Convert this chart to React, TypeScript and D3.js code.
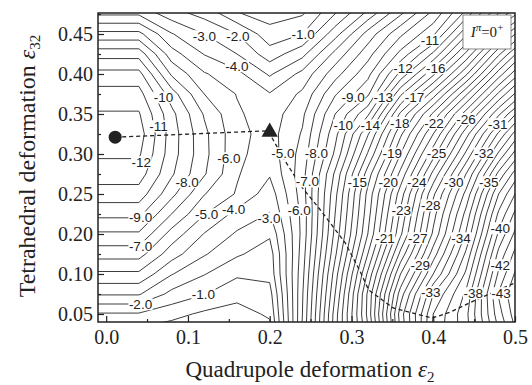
import React, { useEffect, useRef } from "react";
import * as d3 from "d3";

// grid nodes of the calculated energy surface (quadrupole eps2 / tetrahedral eps32)
const epsX = [-0.02, 0.04, 0.08, 0.12, 0.16, 0.2, 0.24, 0.28, 0.32, 0.36, 0.4, 0.44, 0.48, 0.52];
const epsY = [0.48, 0.45, 0.425, 0.4, 0.375, 0.35, 0.325, 0.3, 0.275, 0.25, 0.225, 0.2, 0.15, 0.1, 0.075, 0.05, 0.035];

// energy (MeV), one row per epsY value, one column per epsX value
const energy = [
  [-3.4, -3.4, -2.2, -1.4, 0.15, 0.6, 0.3, -1.7, -4.0, -6.5, -9.0, -12.0, -15.5, -19.0],
  [-6.3, -6.3, -4.07, -3.0, -2.0, -0.4, -1.0, -3.6, -6.4, -8.8, -10.8, -14.8, -19.0, -23.0],
  [-8.6, -8.6, -5.44, -3.95, -3.0, -1.45, -2.7, -5.3, -7.6, -10.3, -13.2, -17.2, -21.8, -26.0],
  [-10.35, -10.35, -6.85, -5.1, -4.3, -2.86, -4.3, -6.6, -8.7, -12.3, -15.8, -19.8, -24.5, -28.5],
  [-11.4, -11.4, -8.46, -6.0, -4.95, -4.07, -5.2, -7.9, -9.8, -14.8, -18.5, -22.8, -27.2, -31.0],
  [-12.1, -12.1, -9.3, -6.9, -5.15, -4.45, -5.8, -9.0, -11.8, -17.2, -21.2, -25.5, -29.8, -34.0],
  [-12.5, -12.5, -9.5, -7.25, -5.3, -4.6, -6.1, -9.7, -13.9, -18.8, -23.0, -27.6, -32.2, -36.5],
  [-12.15, -12.15, -9.45, -7.3, -5.25, -4.45, -6.4, -10.2, -15.1, -20.0, -24.6, -29.2, -34.2, -38.5],
  [-11.5, -11.5, -9.15, -7.1, -5.1, -4.1, -6.6, -11.2, -16.5, -21.3, -26.3, -31.0, -36.3, -40.5],
  [-10.55, -10.55, -8.3, -6.05, -4.9, -3.45, -6.5, -11.7, -17.3, -22.5, -27.8, -32.3, -38.0, -42.0],
  [-9.27, -9.27, -7.0, -5.05, -3.67, -2.95, -6.3, -12.0, -17.6, -23.2, -28.6, -33.3, -39.2, -43.2],
  [-7.85, -7.85, -5.6, -3.95, -2.86, -2.15, -6.3, -12.3, -18.0, -23.8, -29.2, -34.1, -40.2, -44.2],
  [-6.4, -6.4, -4.45, -3.1, -2.14, -1.5, -6.5, -12.8, -19.0, -25.3, -30.5, -35.2, -41.3, -45.2],
  [-4.8, -4.8, -3.06, -2.05, -1.16, -1.3, -6.7, -13.5, -20.2, -27.0, -32.0, -36.2, -42.2, -46.0],
  [-3.1, -3.1, -1.7, -1.05, -0.32, -0.6, -6.9, -14.0, -21.2, -28.5, -34.0, -37.2, -43.1, -46.5],
  [-0.9, -0.9, -0.35, 0.2, 0.4, -0.15, -7.0, -14.5, -21.3, -29.5, -35.0, -37.7, -42.6, -46.3],
  [-0.1, -0.1, 0.3, 0.6, 0.7, 0.2, -7.1, -14.6, -21.0, -29.3, -35.2, -37.6, -42.2, -46.0],
];

const levels = d3.range(-46, 1);

const xTicks = [0, 0.1, 0.2, 0.3, 0.4, 0.5];
const xMinor = [0.05, 0.15, 0.25, 0.35, 0.45];
const yTicks = [0.05, 0.1, 0.2, 0.25, 0.3, 0.35, 0.4, 0.45];
const yMinor = [0.075, 0.15, 0.225, 0.275, 0.325, 0.375, 0.425, 0.475];

// contour labels: text, eps2, eps32
const contourLabels: [string, number, number][] = [
  ["-3.0", 0.12, 0.4475], ["-2.0", 0.161, 0.4475], ["-1.0", 0.241, 0.45], ["-4.0", 0.16, 0.41],
  ["-10", 0.07, 0.371], ["-11", 0.064, 0.335], ["-12", 0.043, 0.29], ["-6.0", 0.15, 0.295],
  ["-8.0", 0.099, 0.265], ["-9.0", 0.042, 0.221], ["-7.0", 0.042, 0.17], ["-5.0", 0.123, 0.225],
  ["-4.0", 0.156, 0.231], ["-3.0", 0.199, 0.22], ["-2.0", 0.042, 0.0625], ["-1.0", 0.119, 0.075],
  ["-11", 0.396, 0.4425], ["-12", 0.363, 0.4075], ["-16", 0.403, 0.4075],
  ["-9.0", 0.302, 0.371], ["-13", 0.339, 0.371], ["-17", 0.377, 0.371],
  ["-10", 0.29, 0.336], ["-14", 0.323, 0.336], ["-18", 0.359, 0.339], ["-22", 0.401, 0.339],
  ["-26", 0.44, 0.344], ["-31", 0.479, 0.3375],
  ["-5.0", 0.216, 0.301], ["-8.0", 0.257, 0.301], ["-19", 0.35, 0.301], ["-25", 0.404, 0.301],
  ["-32", 0.462, 0.301],
  ["-7.0", 0.246, 0.266], ["-15", 0.307, 0.265], ["-20", 0.345, 0.265], ["-24", 0.38, 0.265],
  ["-30", 0.425, 0.265], ["-35", 0.468, 0.265],
  ["-6.0", 0.236, 0.23], ["-23", 0.361, 0.23], ["-28", 0.397, 0.236],
  ["-21", 0.341, 0.19], ["-27", 0.381, 0.19], ["-34", 0.434, 0.19], ["-40", 0.482, 0.2075],
  ["-29", 0.384, 0.1225], ["-42", 0.482, 0.1225],
  ["-33", 0.397, 0.0775], ["-38", 0.449, 0.07625], ["-43", 0.483, 0.07625],
];

const groundState = [0.011, 0.321];
const saddlePoint = [0.2, 0.3275];

// minimum-energy (fission) path
const fissionPath = [
  [0.011, 0.321], [0.198, 0.329], [0.2166, 0.295], [0.2375, 0.261], [0.262, 0.23],
  [0.2925, 0.1775], [0.311, 0.105], [0.321, 0.08], [0.351, 0.0575], [0.399, 0.045],
  [0.421, 0.0525], [0.452, 0.0675], [0.5, 0.089],
];

export default function App() {
  const ref = useRef<SVGSVGElement>(null);

  useEffect(() => {
    const svg = d3.select(ref.current);
    svg.selectAll("*").remove();

    const left = 98, right = 515, top = 13, bottom = 322;
    const serif = "'Liberation Serif', 'Times New Roman', serif";
    const sans = "'Liberation Sans', Arial, sans-serif";

    const x = d3.scaleLinear().domain([-0.01, 0.5]).range([left, right]);
    // the printed axis places its labels at equal spacing
    const y = d3.scaleLinear().domain(yTicks).range(yTicks.map((_, i) => 314 - 40 * i));

    svg.append("rect").attr("width", 532).attr("height", 385).attr("fill", "white");

    svg.append("defs").append("clipPath").attr("id", "plot-area")
      .append("rect").attr("x", left).attr("y", top)
      .attr("width", right - left).attr("height", bottom - top);

    // contour lines
    const nx = epsX.length, ny = epsY.length;
    const gx = d3.scaleLinear().domain(d3.range(nx)).range(epsX);
    const gy = d3.scaleLinear().domain(d3.range(ny)).range(epsY);
    const toPx = (p: number[]): [number, number] => [
      x(gx(Math.max(0, Math.min(nx - 1, p[0] - 0.5)))),
      y(gy(Math.max(0, Math.min(ny - 1, p[1] - 0.5)))),
    ];
    const contours = d3.contours().size([nx, ny]).thresholds(levels)(energy.flat());
    const line = d3.line();
    const cg = svg.append("g").attr("clip-path", "url(#plot-area)");
    contours.forEach((c) => {
      c.coordinates.forEach((poly) => {
        poly.forEach((ring) => {
          cg.append("path")
            .attr("d", line(ring.map(toPx)))
            .attr("fill", "none")
            .attr("stroke", "#333")
            .attr("stroke-width", 0.95);
        });
      });
    });

    // fission path
    cg.append("path")
      .attr("d", line(fissionPath.map((d) => [x(d[0]), y(d[1])] as [number, number])))
      .attr("fill", "none")
      .attr("stroke", "#222")
      .attr("stroke-width", 1.3)
      .attr("stroke-dasharray", "4,3");

    // contour labels
    const lg = svg.append("g");
    contourLabels.forEach(([t, lx, ly]) => {
      const g = lg.append("g");
      const txt = g.append("text")
        .attr("x", x(lx)).attr("y", y(ly))
        .attr("dy", "0.35em")
        .attr("text-anchor", "middle")
        .style("font-family", sans)
        .style("font-size", "13.5px")
        .attr("fill", "#222")
        .text(t);
      const b = (txt.node() as SVGTextElement).getBBox();
      g.insert("rect", "text")
        .attr("x", b.x - 0.5).attr("y", b.y + 1.5)
        .attr("width", b.width + 1).attr("height", b.height - 3)
        .attr("fill", "white");
    });

    // markers
    svg.append("circle")
      .attr("cx", x(groundState[0])).attr("cy", y(groundState[1]))
      .attr("r", 6.5).attr("fill", "#222");
    svg.append("path")
      .attr("d", d3.symbol(d3.symbolTriangle, 115)())
      .attr("transform", `translate(${x(saddlePoint[0])},${y(saddlePoint[1])})`)
      .attr("fill", "#222");

    // legend box
    const leg = svg.append("g");
    leg.append("rect").attr("x", 463).attr("y", 15).attr("width", 48).attr("height", 34)
      .attr("fill", "white").attr("stroke", "#666").attr("stroke-width", 0.8);
    const lt = leg.append("text").attr("x", 487).attr("y", 37).attr("text-anchor", "middle")
      .style("font-family", serif).style("font-size", "15px").attr("fill", "#222");
    lt.append("tspan").style("font-style", "italic").text("I");
    lt.append("tspan").attr("dy", -6).style("font-size", "11px").style("font-style", "italic").text("π");
    lt.append("tspan").attr("dy", 6).text("=0");
    lt.append("tspan").attr("dy", -6).style("font-size", "11px").text("+");

    // frame
    svg.append("rect").attr("x", left).attr("y", top)
      .attr("width", right - left).attr("height", bottom - top)
      .attr("fill", "none").attr("stroke", "#222").attr("stroke-width", 1.5);

    // axes
    const styleAxis = (g: any) => {
      g.select(".domain").remove();
      g.selectAll("line").attr("stroke", "#222").attr("stroke-width", 1.2);
      g.selectAll("text").style("font-family", serif).style("font-size", "20px").attr("fill", "#222");
    };
    svg.append("g").attr("transform", `translate(0,${bottom})`)
      .call(d3.axisBottom(x).tickValues(xTicks).tickSize(-6).tickPadding(8).tickFormat(d3.format(".1f")))
      .call(styleAxis);
    svg.append("g").attr("transform", `translate(0,${bottom})`)
      .call(d3.axisBottom(x).tickValues(xMinor).tickSize(-3).tickFormat(() => ""))
      .call(styleAxis);
    svg.append("g").attr("transform", `translate(${left},0)`)
      .call(d3.axisLeft(y).tickValues(yTicks).tickSize(-6).tickPadding(5).tickFormat(d3.format(".2f")))
      .call(styleAxis);
    svg.append("g").attr("transform", `translate(${left},0)`)
      .call(d3.axisLeft(y).tickValues(yMinor).tickSize(-3).tickFormat(() => ""))
      .call(styleAxis);

    // axis titles
    const xt = svg.append("text").attr("x", 310).attr("y", 377).attr("text-anchor", "middle")
      .style("font-family", serif).style("font-size", "23px").attr("fill", "#222");
    xt.append("tspan").text("Quadrupole deformation ");
    xt.append("tspan").style("font-style", "italic").text("ε");
    xt.append("tspan").attr("dy", 5).style("font-size", "15px").text("2");

    const yt = svg.append("text")
      .attr("transform", `translate(35,166) rotate(-90)`)
      .attr("text-anchor", "middle")
      .style("font-family", serif).style("font-size", "24px").attr("fill", "#222");
    yt.append("tspan").text("Tetrahedral deformation ");
    yt.append("tspan").style("font-style", "italic").text("ε");
    yt.append("tspan").attr("dy", 5).style("font-size", "15px").text("32");
  }, []);

  return (
    <svg
      ref={ref}
      width={532}
      height={385}
      style={{ position: "absolute", left: 0, top: 0, background: "white" }}
    />
  );
}
